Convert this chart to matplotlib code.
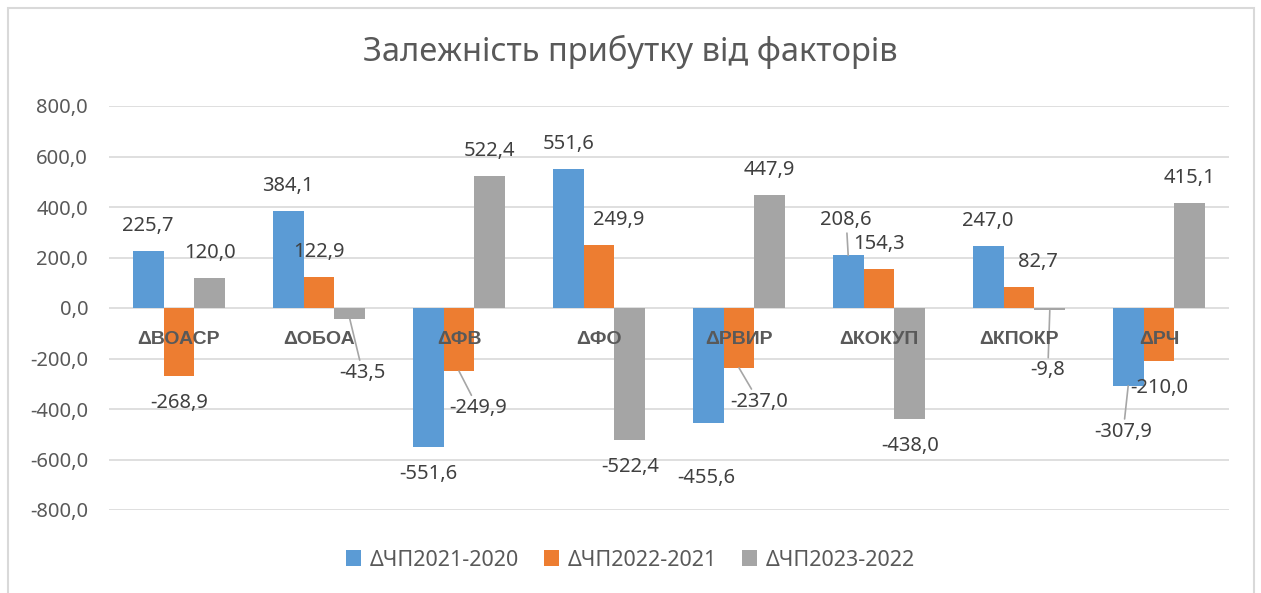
import numpy as np
import matplotlib.pyplot as plt
from matplotlib.patches import Rectangle

plt.rcParams['font.family'] = ['Noto Sans', 'DejaVu Sans']

# дані
categories = ['ΔВОАСР', 'ΔОБОА', 'ΔФВ', 'ΔФО', 'ΔРВИР', 'ΔКОКУП', 'ΔКПОКР', 'ΔРЧ']
series_names = ['ΔЧП2021-2020', 'ΔЧП2022-2021', 'ΔЧП2023-2022']
chp_2021_2020 = [225.7, 384.1, -551.6, 551.6, -455.6, 208.6, 247.0, -307.9]
chp_2022_2021 = [-268.9, 122.9, -249.9, 249.9, -237.0, 154.3, 82.7, -210.0]
chp_2023_2022 = [120.0, -43.5, 522.4, -522.4, 447.9, -438.0, -9.8, 415.1]
y_ticks = [-800, -600, -400, -200, 0, 200, 400, 600, 800]

# стиль
colors = ['#5B9BD5', '#ED7D31', '#A5A5A5']
text_color = '#595959'
grid_color = '#D9D9D9'

# ручні зсуви підписів (пікселі) та виноски, як в Excel
label_shift = {
    (2, 1): (13, -27), (1, 2): (19, -10), (1, 3): (20, 0),
    (0, 4): (-2, -28), (1, 4): (20, -7), (0, 5): (-2, 10),
    (1, 6): (19, 0), (2, 6): (-2, -33), (0, 7): (-5, -19),
}
leaders = {(2, 1), (1, 2), (1, 4), (0, 5), (2, 6), (0, 7)}


def fmt(v):
    return f'{v:.1f}'.replace('.', ',')


W, H = 1261, 593
fig = plt.figure(figsize=(W / 100, H / 100), dpi=100)
ax = fig.add_axes([109 / W, 1 - 510 / H, 1120 / W, 404 / H])

x = np.arange(len(categories))
width = 0.22
all_series = [chp_2021_2020, chp_2022_2021, chp_2023_2022]

handles = []
for s, vals in enumerate(all_series):
    xs = x + (s - 1) * width
    b = ax.bar(xs, vals, width=width, color=colors[s], label=series_names[s], zorder=2)
    handles.append(b)
    for i, v in enumerate(vals):
        dx, dy = label_shift.get((s, i), (0, 0))
        base = 25 if v >= 0 else -27
        props = None
        if (s, i) in leaders:
            props = dict(arrowstyle='-', color='#A6A6A6', lw=1.2, shrinkA=0, shrinkB=0)
        ax.annotate(fmt(v), xy=(xs[i], v), xytext=(dx, base + dy), textcoords='offset pixels',
                    ha='center', va='center', fontsize=14.5, color='#404040',
                    arrowprops=props, zorder=4)

# назви факторів біля нульової лінії
for i, name in enumerate(categories):
    ax.text(i, -125, name, ha='center', va='center', fontsize=14, fontweight='bold',
            family=['Liberation Sans', 'DejaVu Sans'], color=text_color, zorder=5)

ax.set_xlim(-0.5, len(categories) - 0.5)
ax.set_ylim(-800, 800)
ax.set_yticks(y_ticks)
ax.set_yticklabels([fmt(t) for t in y_ticks])
ax.set_xticks([])
ax.tick_params(axis='y', length=0, pad=15, labelsize=14.5, labelcolor=text_color)
ax.grid(axis='y', color=grid_color, lw=1.2, zorder=0)
ax.set_axisbelow(True)
for sp in ax.spines.values():
    sp.set_visible(False)

fig.text(0.5, 1 - 52 / H, 'Залежність прибутку від факторів', ha='center', va='center',
         fontsize=23.5, color=text_color)

fig.legend(handles=handles, loc='center', bbox_to_anchor=(0.5, 1 - 560 / H), ncol=3,
           frameon=False, fontsize=15.5, labelcolor=text_color, handlelength=0.7,
           handleheight=0.7, handletextpad=0.4, columnspacing=1.15)

fig.patches.append(Rectangle((8 / W, -0.1), 1246 / W, 1.1 - 8 / H, transform=fig.transFigure,
                             fill=False, edgecolor=grid_color, lw=1.5))

fig.savefig('out.png', dpi=100, facecolor='white')
